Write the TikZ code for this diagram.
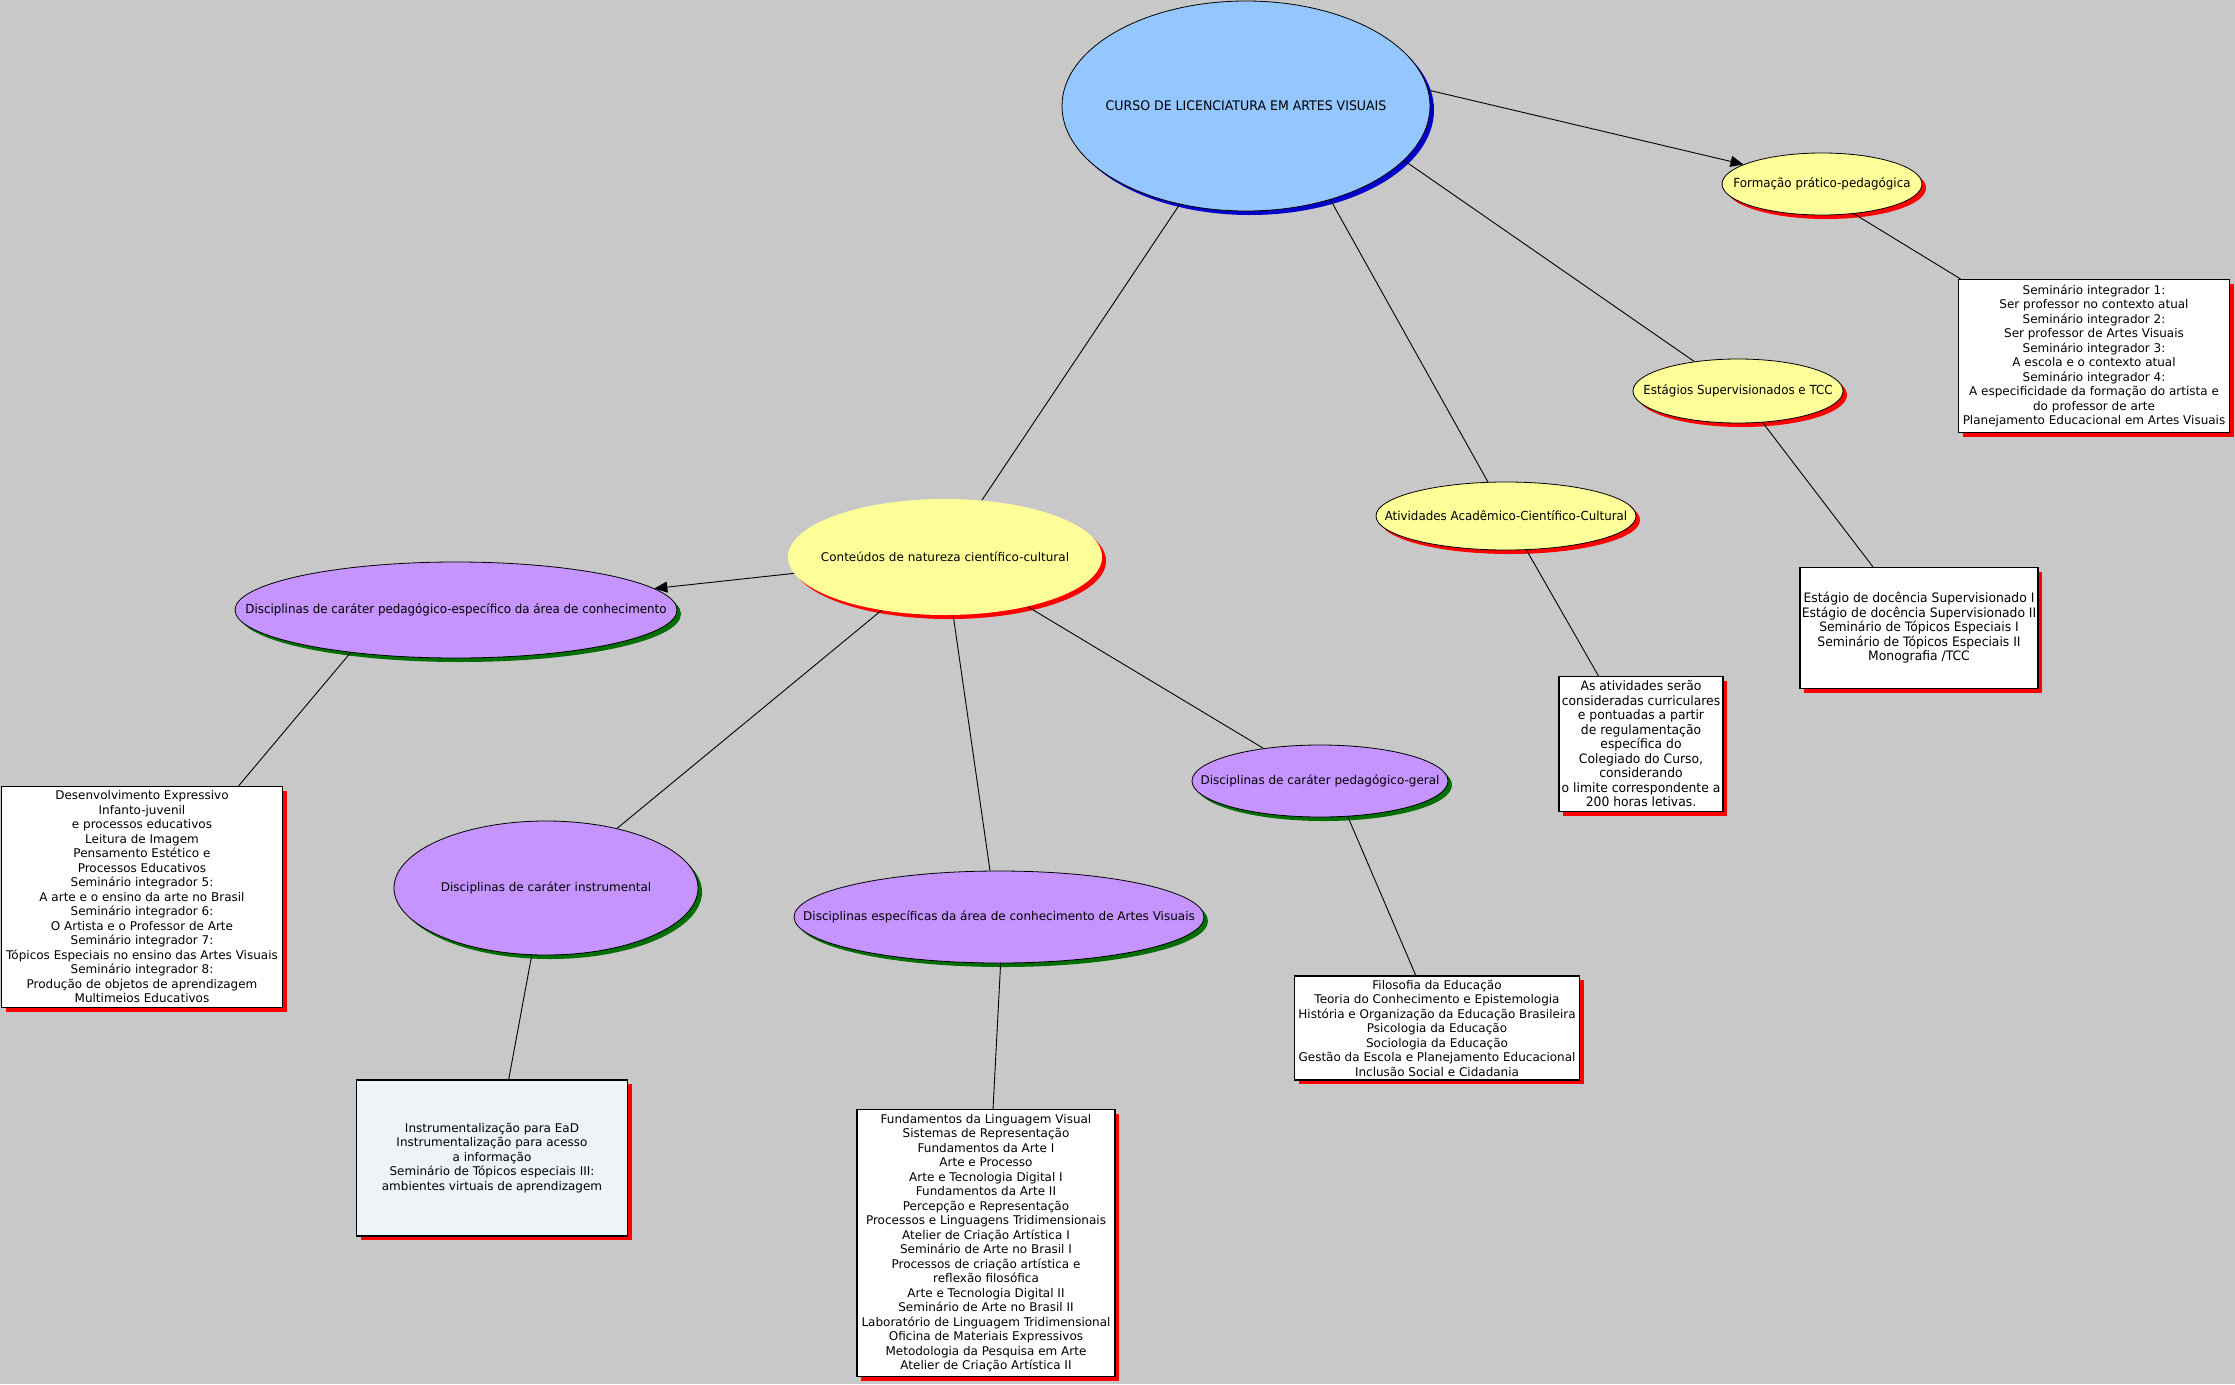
\documentclass[tikz,border=0pt]{standalone}
\usepackage{fontspec}
\setmainfont{DejaVu Sans}
\newfontfamily\narrowfont[FakeStretch=0.95]{DejaVu Sans}
\usepackage{tikz}
\usetikzlibrary{arrows.meta, shadows, shapes.geometric}
\definecolor{bgGray}{RGB}{200,200,200}
\definecolor{skyBlue}{RGB}{148,198,255}
\definecolor{paleYellow}{RGB}{255,255,153}
\definecolor{lilac}{RGB}{197,148,255}
\definecolor{iceBlue}{RGB}{237,243,246}
\definecolor{deepBlue}{RGB}{0,0,204}
\definecolor{darkGreen}{RGB}{0,110,0}
\tikzset{
  topic/.style={ellipse, draw=black, line width=0.8pt, inner sep=0pt,
    execute at begin node={\hbox to 0pt\bgroup\hss}, execute at end node={\hss\egroup},
    font=\narrowfont\fontsize{12.5}{15}\selectfont},
  wide/.style={font=\fontsize{12}{14.5}\selectfont},
  narrowlist/.style={font=\narrowfont\fontsize{13}{14.5}\selectfont},
  listbox/.style={rectangle, draw=black, line width=1.2pt, fill=white, inner sep=1pt, align=center,
    font=\fontsize{12}{14.5}\selectfont,
    drop shadow={shadow xshift=4pt, shadow yshift=-4pt, fill=red, opacity=1}},
  redshade/.style={drop shadow={shadow xshift=4pt, shadow yshift=-4pt, fill=red, opacity=1}},
  greenshade/.style={drop shadow={shadow xshift=4pt, shadow yshift=-4pt, fill=darkGreen, opacity=1}},
  blueshade/.style={drop shadow={shadow xshift=4pt, shadow yshift=-4pt, fill=deepBlue, opacity=1}}
}

\begin{document}
\begin{tikzpicture}[x=1pt, y=-1pt, line width=0.9pt, >={Triangle[length=13pt, width=11pt]}]
        \useasboundingbox (0,0) rectangle (2235,1384);
        \fill[bgGray] (0,0) rectangle (2235,1384);

        % Ellipses
        \node[topic, font=\narrowfont\fontsize{13.2}{15}\selectfont, fill=skyBlue, blueshade, minimum width=368pt, minimum height=210pt] (curso) at (1246,106) {CURSO DE LICENCIATURA EM ARTES VISUAIS};
        \node[topic, fill=paleYellow, redshade, minimum width=200pt, minimum height=62pt] (formacao) at (1822,184) {Formação prático-pedagógica};
        \node[topic, fill=paleYellow, redshade, minimum width=210pt, minimum height=64pt] (estagios) at (1738,391) {Estágios Supervisionados e TCC};
        \node[topic, fill=paleYellow, redshade, minimum width=260pt, minimum height=68pt] (atividades) at (1506,516) {Atividades Acadêmico-Científico-Cultural};
        \node[topic, wide, draw=none, fill=paleYellow, redshade, minimum width=314pt, minimum height=116pt] (conteudos) at (945,557) {Conteúdos de natureza científico-cultural};
        \node[topic, fill=lilac, greenshade, minimum width=442pt, minimum height=96pt] (pedesp) at (456,610) {Disciplinas de caráter pedagógico-específico da área de conhecimento};
        \node[topic, wide, fill=lilac, greenshade, minimum width=304pt, minimum height=134pt] (instr) at (546,888) {Disciplinas de caráter instrumental};
        \node[topic, wide, fill=lilac, greenshade, minimum width=410pt, minimum height=92pt] (especif) at (999,917) {Disciplinas específicas da área de conhecimento de Artes Visuais};
        \node[topic, wide, fill=lilac, greenshade, minimum width=256pt, minimum height=72pt] (geral) at (1320,781) {Disciplinas de caráter pedagógico-geral};

        % Lists
        \node[listbox, minimum width=271pt, minimum height=153pt] (listaForm) at (2094,356) {Seminário integrador 1:\\Ser professor no contexto atual\\Seminário integrador 2:\\Ser professor de Artes Visuais\\Seminário integrador 3:\\A escola e o contexto atual\\Seminário integrador 4:\\A especificidade da formação do artista e\\do professor de arte\\Planejamento Educacional em Artes Visuais};
        \node[listbox, narrowlist, minimum width=238pt, minimum height=121pt] (listaEst) at (1919,628) {Estágio de docência Supervisionado I\\Estágio de docência Supervisionado II\\Seminário de Tópicos Especiais I\\Seminário de Tópicos Especiais II\\Monografia /TCC};
        \node[listbox, narrowlist, minimum width=164pt, minimum height=135pt] (listaAtiv) at (1641,744) {As atividades serão\\consideradas curriculares\\e pontuadas a partir\\de regulamentação\\específica do\\Colegiado do Curso,\\considerando\\o limite correspondente a\\200 horas letivas.};
        \node[listbox, minimum width=281pt, minimum height=221pt] (listaPedEsp) at (142,897) {Desenvolvimento Expressivo\\Infanto-juvenil\\e processos educativos\\Leitura de Imagem\\Pensamento Estético e\\Processos Educativos\\Seminário integrador 5:\\A arte e o ensino da arte no Brasil\\Seminário integrador 6:\\O Artista e o Professor de Arte\\Seminário integrador 7:\\Tópicos Especiais no ensino das Artes Visuais\\Seminário integrador 8:\\Produção de objetos de aprendizagem\\Multimeios Educativos};
        \node[listbox, fill=iceBlue, minimum width=271pt, minimum height=156pt] (listaInstr) at (492,1158) {Instrumentalização para EaD\\Instrumentalização para acesso\\a informação\\Seminário de Tópicos especiais III:\\ambientes virtuais de aprendizagem};
        \node[listbox, minimum width=258pt, minimum height=267pt] (listaEspec) at (986,1243) {Fundamentos da Linguagem Visual\\Sistemas de Representação\\Fundamentos da Arte I\\Arte e Processo\\Arte e Tecnologia Digital I\\Fundamentos da Arte II\\Percepção e Representação\\Processos e Linguagens Tridimensionais\\Atelier de Criação Artística I\\Seminário de Arte no Brasil I\\Processos de criação artística e\\reflexão filosófica\\Arte e Tecnologia Digital II\\Seminário de Arte no Brasil II\\Laboratório de Linguagem Tridimensional\\Oficina de Materiais Expressivos\\Metodologia da Pesquisa em Arte\\Atelier de Criação Artística II};
        \node[listbox, minimum width=285pt, minimum height=104pt] (listaGeral) at (1437,1028) {Filosofia da Educação\\Teoria do Conhecimento e Epistemologia\\História e Organização da Educação Brasileira\\Psicologia da Educação\\Sociologia da Educação\\Gestão da Escola e Planejamento Educacional\\Inclusão Social e Cidadania};

        % Connectors
        \draw[->] (curso.5) -- (formacao.166);
        \draw (curso.236) -- (conteudos.57);
        \draw (curso.312) -- (atividades.118);
        \draw (curso.341) -- (estagios.146);
        \draw (formacao.317) -- (listaForm.150);
        \draw (estagios.308) -- (listaEst.127);
        \draw (atividades.301) -- (listaAtiv.122);
        \draw[->] (conteudos) -- (pedesp);
        \draw (conteudos.220) -- (instr.40);
        \draw (conteudos.278) -- (especif.101);
        \draw (conteudos.329) -- (geral.150);
        \draw (pedesp.202) -- (listaPedEsp.49);
        \draw (instr.258) -- (listaInstr.78);
        \draw (especif.272) -- (listaEspec.87);
        \draw (geral.308) -- (listaGeral.112);
    \end{tikzpicture}
\end{document}
